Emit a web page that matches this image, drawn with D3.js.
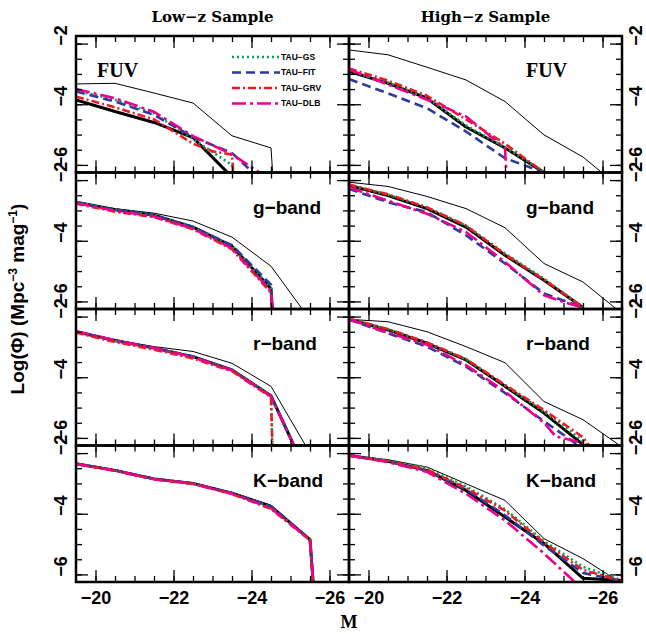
<!DOCTYPE html>
<html>
<head>
<meta charset="utf-8">
<script src="https://cdn.jsdelivr.net/npm/d3@7"></script>
<style>
  body { margin: 0; background: #fff; }
  .tick line { stroke: #000; stroke-width: 1.3; }
</style>
</head>
<body>
<svg id="chart" width="646" height="634"></svg>
<script>
// values: [absolute magnitude M, log(phi)]
const lowFUV = {
  intrinsic: [[-19.5, -3.33], [-20.5, -3.31], [-21.5, -3.63], [-22.5, -3.96], [-23.5, -5.04], [-24.5, -5.44], [-24.56, -6.6]],
  observed: [[-19.5, -3.86], [-20.5, -4.24], [-21.5, -4.6], [-22.5, -5.1], [-23.5, -6.4]],
  gs: [[-19.5, -3.55], [-20.5, -3.85], [-21.5, -4.3], [-22.5, -5.15], [-23.5, -6.0], [-23.55, -6.6]],
  fit: [[-19.5, -3.58], [-20.5, -3.91], [-21.5, -4.35], [-22.5, -5.08], [-23.5, -5.61], [-24.5, -6.8]],
  grv: [[-19.5, -3.75], [-20.5, -4.1], [-21.5, -4.5], [-22.5, -5.3], [-23.0, -5.55], [-23.5, -5.66], [-23.55, -6.6]],
  dlb: [[-19.5, -3.5], [-20.5, -3.8], [-21.5, -4.25], [-22.5, -5.05], [-23.5, -5.65], [-24.5, -6.5]]
}
const highFUV = {
  intrinsic: [[-19.5, -2.21], [-20.5, -2.37], [-21.5, -2.78], [-22.5, -3.2], [-23.5, -3.91], [-24.5, -5.01], [-25.5, -5.74], [-26.5, -6.8]],
  observed: [[-19.5, -2.92], [-20.5, -3.31], [-21.5, -3.8], [-22.5, -4.75], [-23.5, -5.44], [-24.5, -6.25]],
  gs: [[-19.5, -2.9], [-20.5, -3.28], [-21.5, -3.78], [-22.5, -4.7], [-23.5, -5.42], [-24.5, -6.22]],
  fit: [[-19.5, -3.17], [-20.5, -3.64], [-21.5, -4.13], [-22.5, -4.9], [-23.5, -5.78], [-24.5, -6.25]],
  grv: [[-19.5, -2.82], [-20.5, -3.22], [-21.5, -3.72], [-22.5, -4.5], [-23.5, -5.3], [-24.5, -6.25]],
  dlb: [[-19.5, -2.85], [-20.5, -3.35], [-21.5, -3.85], [-22.5, -4.4], [-23.5, -5.45], [-23.55, -6.6]]
}
const lowG = {
  intrinsic: [[-19.5, -2.73], [-20.5, -2.94], [-21.5, -3.09], [-22.5, -3.35], [-23.5, -3.88], [-24.5, -4.84], [-25.5, -6.6]],
  observed: [[-19.5, -2.73], [-20.5, -2.98], [-21.5, -3.16], [-22.5, -3.55], [-23.5, -4.18], [-24.5, -5.58], [-24.55, -6.6]],
  gs: [[-19.5, -2.72], [-20.5, -2.97], [-21.5, -3.15], [-22.5, -3.53], [-23.5, -4.17], [-24.5, -5.55], [-24.55, -6.6]],
  fit: [[-19.5, -2.74], [-20.5, -2.98], [-21.5, -3.16], [-22.5, -3.55], [-23.5, -4.15], [-24.5, -5.45], [-24.55, -6.6]],
  grv: [[-19.5, -2.78], [-20.5, -3.04], [-21.5, -3.22], [-22.5, -3.62], [-23.5, -4.28], [-24.5, -5.72], [-24.55, -6.6]],
  dlb: [[-19.5, -2.76], [-20.5, -3.01], [-21.5, -3.2], [-22.5, -3.6], [-23.5, -4.25], [-24.5, -5.66], [-24.55, -6.6]]
}
const highG = {
  intrinsic: [[-19.5, -2.07], [-20.5, -2.21], [-21.5, -2.54], [-22.5, -2.94], [-23.5, -3.57], [-24.5, -4.75], [-25.5, -5.36], [-26.5, -6.4]],
  observed: [[-19.5, -2.18], [-20.5, -2.51], [-21.5, -2.94], [-22.5, -3.55], [-23.5, -4.48], [-24.5, -5.3], [-25.5, -6.2]],
  gs: [[-19.5, -2.17], [-20.5, -2.48], [-21.5, -2.9], [-22.5, -3.5], [-23.5, -4.42], [-24.5, -5.25], [-25.5, -6.2]],
  fit: [[-19.5, -2.29], [-20.5, -2.73], [-21.5, -3.06], [-22.5, -3.82], [-23.5, -4.75], [-24.5, -5.74], [-25.5, -6.2]],
  grv: [[-19.5, -2.15], [-20.5, -2.47], [-21.5, -2.9], [-22.5, -3.5], [-23.5, -4.45], [-24.5, -5.28], [-25.5, -6.2]],
  dlb: [[-19.5, -2.24], [-20.5, -2.68], [-21.5, -3.11], [-22.5, -3.71], [-23.5, -4.7], [-24.5, -5.8], [-25.0, -6.02], [-25.5, -6.2]]
}
const lowR = {
  intrinsic: [[-19.5, -2.5], [-20.5, -2.77], [-21.5, -2.99], [-22.5, -3.15], [-23.5, -3.54], [-24.5, -4.3], [-25.5, -6.5]],
  observed: [[-19.5, -2.5], [-20.5, -2.79], [-21.5, -3.04], [-22.5, -3.32], [-23.5, -3.76], [-24.5, -4.61], [-25.5, -7.4]],
  gs: [[-19.5, -2.5], [-20.5, -2.8], [-21.5, -3.04], [-22.5, -3.32], [-23.5, -3.76], [-24.5, -4.6], [-24.55, -7.0]],
  fit: [[-19.5, -2.5], [-20.5, -2.79], [-21.5, -3.03], [-22.5, -3.32], [-23.5, -3.76], [-24.5, -4.62], [-25.5, -7.4]],
  grv: [[-19.5, -2.53], [-20.5, -2.84], [-21.5, -3.09], [-22.5, -3.38], [-23.5, -3.8], [-24.5, -4.66], [-24.55, -7.0]],
  dlb: [[-19.5, -2.48], [-20.5, -2.78], [-21.5, -3.03], [-22.5, -3.34], [-23.5, -3.77], [-24.5, -4.63], [-25.5, -7.4]]
}
const highR = {
  intrinsic: [[-19.5, -2.09], [-20.5, -2.17], [-21.5, -2.5], [-22.5, -2.99], [-23.5, -3.52], [-24.5, -4.8], [-25.5, -5.4], [-26.5, -6.3]],
  observed: [[-19.5, -2.09], [-20.5, -2.44], [-21.5, -2.88], [-22.5, -3.43], [-23.5, -4.3], [-24.5, -5.18], [-25.5, -6.22]],
  gs: [[-19.5, -2.08], [-20.5, -2.42], [-21.5, -2.86], [-22.5, -3.41], [-23.5, -4.27], [-24.5, -5.13], [-25.5, -6.1], [-25.7, -6.4]],
  fit: [[-19.5, -2.1], [-20.5, -2.55], [-21.5, -2.99], [-22.5, -3.65], [-23.5, -4.52], [-24.5, -5.45], [-25.5, -6.35]],
  grv: [[-19.5, -2.07], [-20.5, -2.41], [-21.5, -2.85], [-22.5, -3.4], [-23.5, -4.25], [-24.5, -5.08], [-25.5, -5.98], [-25.8, -6.5]],
  dlb: [[-19.5, -2.09], [-20.5, -2.53], [-21.5, -2.93], [-22.5, -3.6], [-23.5, -4.47], [-24.5, -5.5], [-24.8, -5.95], [-25.5, -6.17]]
}
const lowK = {
  intrinsic: [[-19.5, -2.35], [-20.5, -2.57], [-21.5, -2.85], [-22.5, -2.99], [-23.5, -3.3], [-24.5, -3.72], [-25.5, -4.85], [-25.6, -6.6]],
  observed: [[-19.5, -2.35], [-20.5, -2.57], [-21.5, -2.85], [-22.5, -3.0], [-23.5, -3.32], [-24.5, -3.76], [-25.5, -4.85], [-25.6, -6.6]],
  gs: [[-19.5, -2.35], [-20.5, -2.57], [-21.5, -2.85], [-22.5, -3.0], [-23.5, -3.33], [-24.5, -3.78], [-25.5, -4.86], [-25.6, -6.6]],
  fit: [[-19.5, -2.35], [-20.5, -2.57], [-21.5, -2.85], [-22.5, -3.0], [-23.5, -3.32], [-24.5, -3.75], [-25.5, -4.85], [-25.6, -6.6]],
  grv: [[-19.5, -2.36], [-20.5, -2.58], [-21.5, -2.87], [-22.5, -3.02], [-23.5, -3.35], [-24.5, -3.84], [-25.5, -4.87], [-25.6, -6.6]],
  dlb: [[-19.5, -2.35], [-20.5, -2.58], [-21.5, -2.86], [-22.5, -3.01], [-23.5, -3.34], [-24.5, -3.82], [-25.5, -4.86], [-25.6, -6.6]]
}
const highK = {
  intrinsic: [[-19.5, -2.08], [-20.5, -2.22], [-21.5, -2.46], [-22.5, -3.01], [-23.5, -3.56], [-24.5, -4.82], [-25.5, -5.48], [-26.5, -6.3]],
  observed: [[-19.5, -2.08], [-20.5, -2.27], [-21.5, -2.57], [-22.5, -3.23], [-23.5, -4.11], [-24.5, -4.98], [-25.5, -6.13], [-26.5, -6.2]],
  gs: [[-19.5, -2.08], [-20.5, -2.24], [-21.5, -2.5], [-22.5, -3.1], [-23.5, -3.85], [-24.5, -4.9], [-25.5, -5.75], [-26.5, -6.2]],
  fit: [[-19.5, -2.08], [-20.5, -2.27], [-21.5, -2.58], [-22.5, -3.2], [-23.5, -4.05], [-24.5, -5.05], [-25.5, -5.95], [-26.5, -6.22]],
  grv: [[-19.5, -2.08], [-20.5, -2.26], [-21.5, -2.55], [-22.5, -3.15], [-23.5, -3.9], [-24.5, -4.95], [-25.5, -5.85], [-26.5, -6.22]],
  dlb: [[-19.5, -2.08], [-20.5, -2.3], [-21.5, -2.62], [-22.5, -3.34], [-23.5, -4.22], [-24.5, -5.31], [-25.5, -6.5]]
}

const samples = ['Low−z Sample', 'High−z Sample']
const bands = ['FUV', 'g−band', 'r−band', 'K−band']
const legendNames = ['TAU−GS', 'TAU−FIT', 'TAU−GRV', 'TAU−DLB']
const xTickLabels = [-20, -22, -24, -26]
const yTickLabels = [-2, -4, -6]

const panelData = [
  [lowFUV, highFUV],
  [lowG, highG],
  [lowR, highR],
  [lowK, highK]
]

const seriesKeys = ['intrinsic', 'observed', 'gs', 'fit', 'grv', 'dlb']
const seriesStyle = {
  intrinsic: { color: '#000', width: 1, dash: null },
  observed: { color: '#000', width: 3, dash: null },
  gs: { color: '#00a651', width: 2.6, dash: '2,3' },
  fit: { color: '#2b3a9c', width: 2.6, dash: '9,5' },
  grv: { color: '#ed1c24', width: 2.6, dash: '8,3,2,3' },
  dlb: { color: '#ec008c', width: 2.6, dash: '14,4,3,4' }
}

const colX = [76, 349]
const top0 = 36
const pw = 273
const ph = 136.5
const sans = 'Liberation Sans, Arial, sans-serif'

const svg = d3.select('#chart')

const x = d3.scaleLinear().domain([-19.5, -26.5]).range([0, pw])
const y = d3.scaleLinear().domain([-1.75, -6.25]).range([0, ph])
const line = d3.line().x(d => x(d[0])).y(d => y(d[1]))
const fmt = d3.format('d')

const xMinor = d3.range(-20, -26.01, -0.5)
const yMinor = d3.range(-2, -6.01, -0.5)

function ticks(g, axis, values, size, transform) {
  g.append('g')
    .attr('transform', transform || null)
    .call(axis.tickValues(values).tickSize(size).tickFormat(''))
    .call(a => a.select('.domain').remove())
}

panelData.forEach((row, r) => {
  row.forEach((data, c) => {
    const id = `clip-${r}-${c}`
    const g = svg.append('g')
      .attr('transform', `translate(${colX[c]},${top0 + r * ph})`)

    g.append('clipPath').attr('id', id)
      .append('rect').attr('width', pw).attr('height', ph)

    const plot = g.append('g').attr('clip-path', `url(#${id})`)
    seriesKeys.forEach(k => {
      const s = seriesStyle[k]
      plot.append('path')
        .datum(data[k])
        .attr('d', line)
        .attr('fill', 'none')
        .attr('stroke', s.color)
        .attr('stroke-width', s.width)
        .attr('stroke-dasharray', s.dash)
        .attr('stroke-linejoin', 'round')
    })

    // inward ticks on all four sides
    ticks(g, d3.axisBottom(x), xMinor, -6, `translate(0,${ph})`)
    ticks(g, d3.axisBottom(x), xTickLabels, -12, `translate(0,${ph})`)
    ticks(g, d3.axisTop(x), xMinor, -6)
    ticks(g, d3.axisTop(x), xTickLabels, -12)
    ticks(g, d3.axisLeft(y), yMinor, -6)
    ticks(g, d3.axisLeft(y), yTickLabels, -12)
    ticks(g, d3.axisRight(y), yMinor, -6, `translate(${pw},0)`)
    ticks(g, d3.axisRight(y), yTickLabels, -12, `translate(${pw},0)`)

    g.append('rect')
      .attr('width', pw).attr('height', ph)
      .attr('fill', 'none').attr('stroke', '#000').attr('stroke-width', 2.5)

    // band label
    const isFUV = r === 0
    g.append('text')
      .attr('x', isFUV && c === 0 ? 21 : 177)
      .attr('y', 41)
      .attr('font-family', isFUV ? 'Liberation Serif, serif' : sans)
      .attr('font-weight', 'bold')
      .attr('font-size', isFUV ? 20 : 19)
      .text(bands[r])

    // y tick labels, rotated, outside the frame
    const lx = c === 0 ? -9 : pw + 20
    yTickLabels.forEach(v => {
      g.append('text')
        .attr('transform', `translate(${lx},${y(v) - 8}) rotate(-90)`)
        .attr('text-anchor', 'middle')
        .attr('font-family', sans)
        .attr('font-weight', 'bold')
        .attr('font-size', 18)
        .text(fmt(v))
    })

    if (r === panelData.length - 1) {
      g.append('g')
        .attr('transform', `translate(0,${ph})`)
        .call(d3.axisBottom(x).tickValues(xTickLabels).tickSize(0).tickPadding(9).tickFormat(fmt))
        .call(a => a.select('.domain').remove())
        .call(a => a.selectAll('text')
          .attr('font-family', sans)
          .attr('font-weight', 'bold')
          .attr('font-size', 18)
          .attr('fill', '#000'))
    }
  })
})

// legend in the top-left panel
const legend = svg.append('g').attr('transform', `translate(${colX[0]},${top0})`)
const legendKeys = ['gs', 'fit', 'grv', 'dlb']
legendKeys.forEach((k, i) => {
  const s = seriesStyle[k]
  const ly = 21 + i * 15.5
  legend.append('line')
    .attr('x1', 156).attr('x2', 204).attr('y1', ly).attr('y2', ly)
    .attr('stroke', s.color).attr('stroke-width', s.width)
    .attr('stroke-dasharray', s.dash)
  legend.append('text')
    .attr('x', 205).attr('y', ly).attr('dy', '0.35em')
    .attr('font-family', sans)
    .attr('font-weight', 'bold').attr('font-size', 8.5)
    .text(legendNames[i])
})

// column titles
samples.forEach((t, c) => {
  svg.append('text')
    .attr('x', colX[c] + pw / 2).attr('y', 22)
    .attr('text-anchor', 'middle')
    .attr('font-family', 'DejaVu Serif, serif')
    .attr('font-weight', 'bold')
    .attr('font-size', 15)
    .text(t)
})

// axis titles
svg.append('text')
  .attr('x', 349).attr('y', 628)
  .attr('text-anchor', 'middle')
  .attr('font-family', 'Liberation Serif, serif')
  .attr('font-weight', 'bold')
  .attr('font-size', 18)
  .text('M')

const yTitle = svg.append('text')
  .attr('transform', `translate(24,${top0 + 2 * ph - 10}) rotate(-90)`)
  .attr('text-anchor', 'middle')
  .attr('font-family', sans)
  .attr('font-weight', 'bold')
  .attr('font-size', 19)
yTitle.append('tspan').text('Log(Φ) (Mpc')
yTitle.append('tspan').attr('dy', -7).attr('font-size', 12).text('−3')
yTitle.append('tspan').attr('dy', 7).text(' mag')
yTitle.append('tspan').attr('dy', -7).attr('font-size', 12).text('−1')
yTitle.append('tspan').attr('dy', 7).text(')')
</script>
</body>
</html>
